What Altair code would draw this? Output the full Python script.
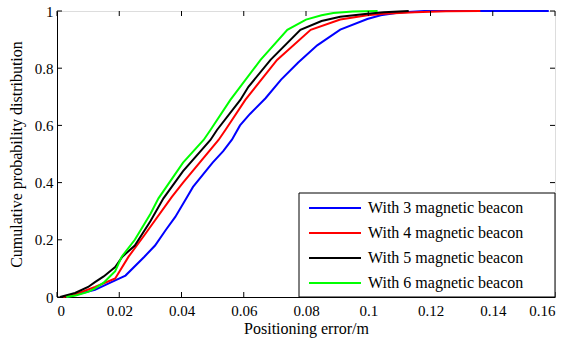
import altair as alt
import pandas as pd

labels = ["With 3 magnetic beacon", "With 4 magnetic beacon",
          "With 5 magnetic beacon", "With 6 magnetic beacon"]
colors = ["#0000ff", "#ff0000", "#000000", "#00ff00"]

err3 = [0.003, 0.006, 0.0122, 0.0187, 0.022, 0.028, 0.0315, 0.035, 0.038, 0.0418, 0.0437,
        0.050, 0.0534, 0.0562, 0.0588, 0.062, 0.067, 0.072, 0.0775, 0.0836, 0.091, 0.0997,
        0.104, 0.110, 0.118, 0.158]
cdf3 = [0.0, 0.008, 0.025, 0.058, 0.075, 0.140, 0.180, 0.235, 0.28, 0.35, 0.385,
        0.47, 0.51, 0.55, 0.60, 0.64, 0.695, 0.76, 0.82, 0.88, 0.935, 0.972,
        0.985, 0.995, 1.0, 1.0]

err4 = [0.002, 0.006, 0.0122, 0.0187, 0.023, 0.028, 0.0369, 0.0405, 0.0519, 0.0541,
        0.0605, 0.0707, 0.0815, 0.091, 0.0997, 0.105, 0.115, 0.125, 0.136]
cdf4 = [0.0, 0.010, 0.035, 0.065, 0.141, 0.215, 0.350, 0.40, 0.549, 0.584,
        0.689, 0.829, 0.934, 0.97, 0.985, 0.99, 0.996, 0.999, 1.0]

err5 = [0.001, 0.0058, 0.010, 0.0122, 0.015, 0.0187, 0.021, 0.025, 0.030, 0.0342, 0.0405,
        0.0493, 0.0514, 0.0589, 0.0615, 0.0686, 0.0782, 0.085, 0.091, 0.0997, 0.105, 0.113]
cdf5 = [0.0, 0.014, 0.035, 0.052, 0.072, 0.105, 0.141, 0.18, 0.265, 0.345, 0.44,
        0.549, 0.584, 0.689, 0.735, 0.829, 0.934, 0.965, 0.98, 0.99, 0.996, 1.0]

err6 = [0.003, 0.006, 0.010, 0.0122, 0.015, 0.0187, 0.0208, 0.025, 0.030, 0.0326, 0.0405,
        0.0471, 0.0493, 0.0557, 0.0654, 0.0740, 0.080, 0.085, 0.0888, 0.095, 0.103]
cdf6 = [0.0, 0.005, 0.018, 0.030, 0.050, 0.090, 0.141, 0.20, 0.29, 0.345, 0.47,
        0.549, 0.584, 0.689, 0.829, 0.934, 0.97, 0.985, 0.993, 0.998, 1.0]

x_ticks = [0, 0.02, 0.04, 0.06, 0.08, 0.1, 0.12, 0.14, 0.16]
y_ticks = [0, 0.2, 0.4, 0.6, 0.8, 1]

rows = []
for lab, xs_, ys_ in zip(labels, [err3, err4, err5, err6], [cdf3, cdf4, cdf5, cdf6]):
    for i, (a, b) in enumerate(zip(xs_, ys_)):
        rows.append({"series": lab, "err": a, "cdf": b, "idx": i})
df = pd.DataFrame(rows)

FONT = "Times New Roman, Liberation Serif, serif"
W, H = 498, 286

xs = alt.Scale(domain=[0, 0.16], nice=False, zero=False)
ys = alt.Scale(domain=[0, 1], nice=False, zero=False)
cs = alt.Scale(domain=labels, range=colors)

lines = alt.Chart(df).mark_line(strokeWidth=2).encode(
    x=alt.X("err:Q", scale=xs, axis=alt.Axis(
        values=x_ticks, format="~g", title="Positioning error/m", grid=False,
        tickSize=0, labelPadding=6, titlePadding=2, domainColor="black",
        labelFont=FONT, labelFontSize=15, labelColor="black",
        titleFont=FONT, titleFontSize=16, titleFontWeight="normal", titleColor="black")),
    y=alt.Y("cdf:Q", scale=ys, axis=alt.Axis(
        values=y_ticks, format="~g", title="Cumulative probability distribution", grid=False,
        tickSize=0, labelPadding=4, titlePadding=10, domainColor="black",
        labelFont=FONT, labelFontSize=15, labelColor="black",
        titleFont=FONT, titleFontSize=16, titleFontWeight="normal", titleColor="black")),
    color=alt.Color("series:N", scale=cs, legend=None),
    order="idx:Q",
)

xt = pd.DataFrame({"t": x_ticks})
yt = pd.DataFrame({"t": y_ticks})

xtick_bottom = alt.Chart(xt).mark_rule(color="black", strokeWidth=1).encode(
    x=alt.X("t:Q", scale=xs), y=alt.value(H), y2=alt.value(H - 5))
xtick_top = alt.Chart(xt).mark_rule(color="black", strokeWidth=1).encode(
    x=alt.X("t:Q", scale=xs), y=alt.value(0), y2=alt.value(5))
ytick_left = alt.Chart(yt).mark_rule(color="black", strokeWidth=1).encode(
    y=alt.Y("t:Q", scale=ys), x=alt.value(0), x2=alt.value(5))
ytick_right = alt.Chart(yt).mark_rule(color="black", strokeWidth=1).encode(
    y=alt.Y("t:Q", scale=ys), x=alt.value(W), x2=alt.value(W - 5))

leg_df = pd.DataFrame({"series": labels, "k": [0, 1, 2, 3]})
leg_box = alt.Chart(pd.DataFrame({"a": [0]})).mark_rect(
    fill="white", stroke="black", strokeWidth=1).encode(
    x=alt.value(242), x2=alt.value(W), y=alt.value(182), y2=alt.value(H))
leg_base = alt.Chart(leg_df).transform_calculate(ly="197 + 25 * datum.k")
leg_lines = leg_base.mark_rule(strokeWidth=2).encode(
    x=alt.value(252), x2=alt.value(304),
    y=alt.Y("ly:Q", scale=None),
    color=alt.Color("series:N", scale=cs, legend=None))
leg_text = leg_base.mark_text(align="left", baseline="middle", font=FONT,
                              fontSize=16, color="black").encode(
    x=alt.value(311), y=alt.Y("ly:Q", scale=None), text="series:N")

chart = alt.layer(
    lines, xtick_bottom, xtick_top, ytick_left, ytick_right,
    leg_box, leg_lines, leg_text
).properties(
    width=W, height=H,
    autosize=alt.AutoSizeParams(type="none"),
    padding={"left": 57, "top": 11, "right": 17, "bottom": 48},
).configure_view(stroke="black", strokeWidth=1).configure(background="white")

chart.save("out.html", embed_options={"renderer": "svg", "actions": False})
